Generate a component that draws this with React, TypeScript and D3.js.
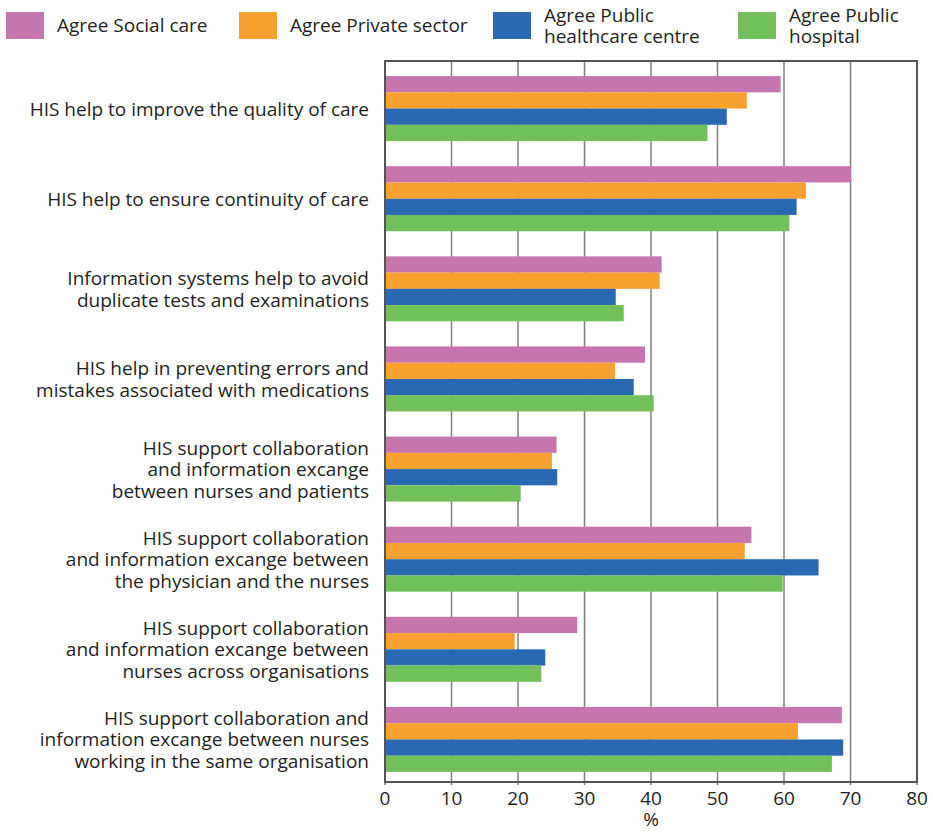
import React from "react";
import * as d3 from "d3";

const categories = [
  ["HIS help to improve the quality of care"],
  ["HIS help to ensure continuity of care"],
  ["Information systems help to avoid", "duplicate tests and examinations"],
  ["HIS help in preventing errors and", "mistakes associated with medications"],
  ["HIS support collaboration", "and information excange", "between nurses and patients"],
  ["HIS support collaboration", "and information excange between", "the physician and the nurses"],
  ["HIS support collaboration", "and information excange between", "nurses across organisations"],
  ["HIS support collaboration and", "information excange between nurses", "working in the same organisation"],
];

const seriesNames = [
  ["Agree Social care"],
  ["Agree Private sector"],
  ["Agree Public", "healthcare centre"],
  ["Agree Public", "hospital"],
];
const seriesColors = ["#c775ae", "#f9a12e", "#2869b2", "#72c05a"];

const socialCare = [59.5, 70.1, 41.6, 39.1, 25.8, 55.1, 28.9, 68.7];
const privateSector = [54.4, 63.3, 41.3, 34.6, 25.1, 54.1, 19.5, 62.1];
const publicHealthcareCentre = [51.4, 61.9, 34.7, 37.4, 25.9, 65.2, 24.1, 68.9];
const publicHospital = [48.5, 60.8, 35.9, 40.4, 20.4, 59.8, 23.5, 67.2];
const seriesValues = [socialCare, privateSector, publicHealthcareCentre, publicHospital];

const xTicks = [0, 10, 20, 30, 40, 50, 60, 70, 80];

const W = 933;
const H = 833;
const plot = { left: 385, right: 917, top: 61, bottom: 782 };
const font = "'Open Sans', Lato, sans-serif";
const textColor = "#231f20";
const fs = 19;

export default function App() {
  const x = d3.scaleLinear().domain([0, 80]).range([plot.left, plot.right]);
  const y = d3
    .scaleBand()
    .domain(categories.map((_, i) => String(i)))
    .range([plot.top, plot.bottom])
    .paddingInner(0.279)
    .paddingOuter(0.1395)
    .align(0.6);
  const inner = d3
    .scaleBand()
    .domain(seriesNames.map((_, i) => String(i)))
    .range([0, y.bandwidth()]);

  const legendX = [6, 239, 493, 738];
  const lineH = 21.5;

  return (
    <svg
      width={W}
      height={H}
      style={{ position: "absolute", left: 0, top: 0, background: "#fff" }}
      fontFamily={font}
    >
      {/* legend */}
      {seriesNames.map((name, i) => (
        <g key={i} transform={`translate(${legendX[i]},0)`}>
          <rect x={0} y={12} width={38} height={27} fill={seriesColors[i]} />
          {name.map((ln, j) => (
            <text
              key={j}
              x={51}
              y={name.length === 1 ? 32 : 22 + j * 21}
              fontSize={fs}
              fill={textColor}
            >
              {ln}
            </text>
          ))}
        </g>
      ))}

      {/* grid */}
      {xTicks.map((t) => (
        <line
          key={t}
          x1={x(t)}
          x2={x(t)}
          y1={plot.top}
          y2={plot.bottom + 3}
          stroke="#808080"
          strokeWidth={1.5}
        />
      ))}

      {/* bars */}
      {categories.map((_, ci) => (
        <g key={ci} transform={`translate(0,${y(String(ci))})`}>
          {seriesValues.map((vals, si) => (
            <rect
              key={si}
              x={x(0)}
              y={inner(String(si))}
              width={x(vals[ci]) - x(0)}
              height={inner.bandwidth()}
              fill={seriesColors[si]}
            />
          ))}
        </g>
      ))}

      {/* frame */}
      <rect
        x={plot.left}
        y={plot.top}
        width={plot.right - plot.left}
        height={plot.bottom - plot.top}
        fill="none"
        stroke="#555"
        strokeWidth={2}
      />

      {/* category labels */}
      {categories.map((lines, ci) => {
        const cy = (y(String(ci)) as number) + y.bandwidth() / 2;
        const y0 = cy - ((lines.length - 1) * lineH) / 2 + 7;
        return (
          <g key={ci}>
            {lines.map((ln, j) => (
              <text
                key={j}
                x={369}
                y={y0 + j * lineH}
                textAnchor="end"
                fontSize={fs}
                fill={textColor}
              >
                {ln}
              </text>
            ))}
          </g>
        );
      })}

      {/* x tick labels */}
      {xTicks.map((t) => (
        <text
          key={t}
          x={x(t)}
          y={805}
          textAnchor="middle"
          fontSize={fs}
          fill={textColor}
        >
          {t}
        </text>
      ))}
      <text x={(plot.left + plot.right) / 2} y={826} textAnchor="middle" fontSize={fs} fill={textColor}>
        %
      </text>
    </svg>
  );
}
